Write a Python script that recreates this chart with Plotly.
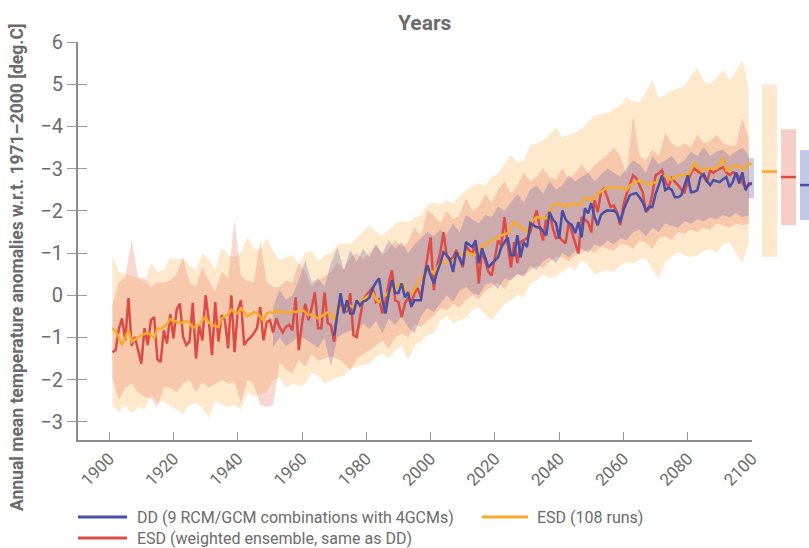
import plotly.graph_objects as go

# ---------------- DATA ----------------
years = list(range(1901, 2101))          # annual series (ESD lines)
dd_years = list(range(1970, 2101))       # annual series (DD line)
band_years = list(range(1901, 2100, 2))  # ESD envelopes
dd_band_years = list(range(1951, 2100, 2))

esd_weighted = [
    -1.35, -1.3, -0.8, -0.55, -1.07, -0.07, -1.2, -0.99, -1.3, -1.62,
    -0.78, -1.18, -0.59, -0.52, -1.52, -1.58, -0.83, -1.14, -0.45, -1.02,
    -0.34, -0.2, -0.99, -1.18, -1.1, -0.18, -1.5, -0.71, -1.07, 0.0,
    -0.6, -1.42, -0.16, -1.1, -0.47, -0.59, -1.26, 0.0, -1.35, -0.36,
    -0.12, -1.18, -1.07, -1.0, -0.9, -0.78, -0.28, -1.07, -0.64, -0.59,
    -0.88, -0.55, -0.75, -0.88, -0.75, -0.7, -0.83, -0.05, -1.3, -0.66,
    -0.2, -0.59, -0.3, 0.07, -0.78, -0.78, 0.07, -0.66, -0.71, -1.1,
    -0.36, -0.2, -0.24, -0.4, 0.05, -0.95, -0.99, -0.5, -0.12, 0.0,
    0.1, 0.19, -0.16, -0.1, -0.43, -0.12, 0.3, 0.59, -0.12, -0.16,
    -0.52, -0.2, -0.05, -0.2, 0.05, 0.17, -0.05, 0.4, 0.83, 1.37,
    0.12, 0.71, 1.0, 1.49, 0.95, 0.83, 0.9, 1.07, 0.9, 0.66,
    1.18, 1.05, 0.99, 1.23, 0.28, 1.07, 0.8, 0.55, 0.47, 0.9,
    1.3, 1.18, 1.85, 1.2, 0.66, 1.26, 0.76, 1.26, 1.3, 1.35,
    1.5, 1.73, 2.01, 1.6, 1.3, 1.85, 1.97, 1.6, 1.35, 1.37,
    1.3, 1.23, 1.73, 1.47, 1.2, 0.99, 1.85, 1.8, 1.73, 1.49,
    2.25, 1.97, 2.44, 2.54, 2.3, 2.09, 2.13, 1.97, 1.66, 2.13,
    2.4, 2.61, 2.84, 2.77, 2.6, 2.44, 1.97, 2.06, 2.4, 2.84,
    2.89, 2.96, 2.7, 2.56, 2.77, 2.7, 2.61, 2.5, 2.44, 2.7,
    2.89, 3.0, 2.95, 2.89, 2.8, 2.68, 2.96, 2.9, 2.96, 3.0,
    3.03, 2.91, 2.85, 2.91, 2.89, 2.8, 2.68, 2.54, 2.6, 2.65,
]

esd_108 = [
    -0.78, -0.85, -1.0, -1.18, -1.0, -0.83, -1.1, -1.05, -0.99, -0.95,
    -0.92, -0.88, -0.95, -1.02, -0.78, -0.8, -0.75, -0.68, -0.57, -0.6,
    -0.63, -0.66, -0.64, -0.61, -0.65, -0.78, -0.72, -0.71, -0.6, -0.52,
    -0.65, -0.71, -0.73, -0.75, -0.55, -0.5, -0.45, -0.34, -0.4, -0.43,
    -0.31, -0.4, -0.5, -0.45, -0.4, -0.42, -0.5, -0.6, -0.43, -0.4,
    -0.42, -0.36, -0.42, -0.38, -0.43, -0.4, -0.38, -0.4, -0.36, -0.34,
    -0.4, -0.47, -0.45, -0.5, -0.55, -0.5, -0.45, -0.4, -0.5, -0.59,
    -0.28, -0.3, -0.36, -0.3, -0.25, -0.28, -0.2, -0.15, -0.1, -0.05,
    0.0, 0.05, -0.1, -0.16, -0.05, 0.0, 0.08, 0.12, 0.2, 0.25,
    0.28, 0.15, 0.05, 0.0, 0.15, 0.3, 0.4, 0.5, 0.59, 0.59,
    0.52, 0.65, 0.76, 0.78, 0.8, 0.78, 0.82, 0.9, 0.95, 0.98,
    1.02, 1.0, 0.97, 0.95, 1.05, 1.18, 1.2, 1.25, 1.3, 1.35,
    1.38, 1.42, 1.45, 1.47, 1.6, 1.73, 1.68, 1.61, 1.55, 1.5,
    1.71, 1.78, 1.85, 1.84, 1.83, 1.82, 1.95, 2.13, 2.15, 2.18,
    2.12, 2.09, 2.15, 2.18, 2.15, 2.13, 2.2, 2.32, 2.28, 2.25,
    2.32, 2.42, 2.45, 2.5, 2.56, 2.55, 2.56, 2.56, 2.56, 2.52,
    2.49, 2.6, 2.65, 2.7, 2.7, 2.7, 2.65, 2.61, 2.65, 2.68,
    2.75, 2.8, 2.84, 2.78, 2.73, 2.8, 2.84, 2.84, 2.84, 2.84,
    2.95, 3.13, 3.05, 2.96, 2.98, 3.0, 3.0, 3.0, 3.0, 3.1,
    3.27, 2.96, 3.0, 3.05, 3.08, 3.05, 3.0, 3.0, 3.12, 3.1,
]

dd_mean = [
    -0.95, -0.43, 0.05, -0.43, -0.12, -0.43, -0.43, -0.12, -0.24, -0.15,
    -0.12, -0.05, 0.17, 0.3, 0.4, -0.12, -0.43, 0.05, 0.36, 0.05,
    0.05, 0.28, -0.05, 0.07, -0.28, -0.12, -0.12, -0.12, 0.43, 0.71,
    0.47, 0.28, 0.55, 0.75, 1.02, 0.95, 0.85, 0.55, 1.02, 0.85,
    0.71, 1.26, 1.2, 1.14, 1.3, 0.76, 1.11, 0.9, 0.66, 0.75,
    0.83, 0.9, 1.14, 1.25, 1.37, 0.95, 0.95, 1.42, 0.9, 1.26,
    1.14, 1.71, 1.65, 1.61, 1.61, 1.5, 1.42, 1.97, 1.8, 1.71,
    1.35, 2.01, 1.8, 1.71, 1.66, 1.47, 1.73, 1.37, 2.06, 1.94,
    2.18, 1.85, 1.66, 1.9, 1.97, 2.01, 2.0, 2.01, 1.94, 1.73,
    2.01, 2.2, 2.37, 2.4, 2.42, 2.32, 2.2, 2.01, 2.09, 2.09,
    2.4, 2.61, 2.84, 2.49, 2.54, 2.5, 2.32, 2.32, 2.37, 2.6,
    2.84, 2.44, 2.45, 2.49, 2.8, 2.87, 2.7, 2.61, 2.73, 2.7,
    2.68, 2.75, 2.8, 2.56, 2.68, 2.91, 2.65, 2.91, 2.49, 2.65, 2.65,
]

esd108_upper = [
    0.95, 0.55, 0.5, 0.45, 0.4, 0.3, 0.76, 0.55, 0.6, 0.88,
    0.85, 0.88, 0.7, 0.6, 0.99, 0.85, 0.6, 1.14, 0.95, 0.9,
    1.0, 1.38, 1.1, 1.07, 1.35, 1.05, 0.83, 0.9, 0.95, 0.76,
    1.0, 1.05, 0.8, 0.95, 1.0, 1.19, 1.23, 1.2, 1.35, 1.5,
    1.66, 1.5, 1.42, 1.54, 1.7, 1.75, 1.73, 1.85, 1.9, 2.13,
    2.2, 2.15, 2.25, 2.18, 2.35, 2.49, 2.6, 2.65, 2.6, 2.8,
    2.89, 3.1, 3.32, 3.15, 3.2, 3.55, 3.6, 3.67, 3.8, 3.96,
    3.74, 3.8, 3.86, 3.95, 4.1, 4.25, 4.3, 4.31, 4.4, 4.5,
    4.69, 4.6, 4.57, 4.8, 5.1, 4.67, 4.75, 4.85, 4.9, 4.95,
    5.2, 5.38, 5.05, 5.0, 5.15, 5.33, 5.1, 5.3, 5.57, 4.9,
]
esd108_lower = [
    -2.6, -2.77, -2.6, -2.8, -2.65, -2.7, -2.33, -2.55, -2.5, -2.65,
    -2.7, -2.8, -2.6, -2.55, -2.7, -2.89, -2.5, -2.6, -2.65, -2.6,
    -2.7, -2.3, -2.4, -2.35, -2.3, -2.0, -1.95, -2.2, -2.1, -2.15,
    -2.1, -1.85, -1.9, -2.1, -2.0, -1.95, -1.9, -1.75, -1.7, -1.65,
    -1.62, -1.45, -1.38, -1.5, -1.3, -1.2, -1.54, -1.2, -1.1, -0.95,
    -0.9, -0.6, -0.5, -0.66, -0.6, -0.55, -0.35, -0.28, -0.45, -0.59,
    -0.4, -0.2, -0.12, 0.0, -0.05, 0.28, 0.35, 0.5, 0.4, 0.45,
    0.55, 0.67, 0.6, 0.83, 0.7, 0.5, 0.55, 0.6, 0.55, 0.7,
    0.78, 0.75, 0.85, 0.88, 0.6, 0.4, 0.8, 0.9, 1.02, 0.95,
    0.9, 0.95, 1.05, 1.11, 1.0, 1.2, 1.26, 1.0, 0.78, 1.26,
]

esdw_upper = [
    -0.24, 0.3, 0.43, 1.3, 0.43, 0.4, 0.19, 0.3, 0.3, 0.35,
    0.5, 0.9, 0.3, 0.2, 0.67, 0.35, 0.1, 0.55, 0.4, 1.78,
    0.45, 0.35, 0.3, 1.3, 0.3, 0.2, 0.19, 0.35, 0.3, 0.76,
    0.55, 0.2, 0.35, 0.45, 0.55, 0.78, 0.6, 0.9, 1.0, 0.85,
    1.0, 1.2, 0.95, 1.1, 1.3, 1.15, 1.25, 1.6, 1.4, 2.0,
    1.9, 1.7, 2.0, 1.8, 1.9, 2.3, 2.0, 2.1, 2.4, 2.2,
    2.5, 2.7, 2.4, 2.6, 2.9, 2.7, 2.8, 3.0, 2.8, 2.75,
    3.0, 2.75, 2.9, 3.1, 2.9, 3.08, 3.2, 3.32, 3.5, 3.3,
    2.84, 4.26, 3.3, 3.2, 3.45, 3.3, 3.84, 3.6, 3.5, 3.6,
    3.5, 3.8, 3.6, 3.65, 3.8, 3.6, 3.55, 3.55, 4.2, 3.7,
]
esdw_lower = [
    -1.95, -2.49, -2.2, -2.1, -2.3, -2.4, -2.45, -2.65, -2.17, -2.2,
    -2.3, -2.1, -2.0, -2.3, -2.05, -2.2, -2.1, -2.0, -2.1, -2.05,
    -2.55, -2.0, -2.1, -2.6, -2.65, -2.6, -1.6, -1.75, -1.85, -1.53,
    -1.7, -1.4, -1.55, -1.5, -1.45, -1.5, -1.6, -1.78, -1.5, -1.38,
    -1.3, -1.2, -1.07, -1.25, -1.0, -0.9, -1.0, -0.7, -0.75, -0.6,
    -0.5, -0.3, -0.35, -0.2, -0.3, -0.1, 0.0, -0.1, 0.1, 0.2,
    0.3, 0.15, 0.4, 0.5, 0.45, 0.6, 0.7, 0.65, 0.8, 0.9,
    0.9, 0.8, 0.95, 1.0, 1.1, 1.0, 1.15, 1.1, 1.05, 1.2,
    1.2, 1.1, 1.3, 1.25, 1.1, 1.35, 1.4, 1.3, 1.5, 1.45,
    1.55, 1.5, 1.6, 1.55, 1.7, 1.65, 1.6, 1.7, 1.65, 1.7,
]

dd_upper = [
    -0.28, 0.12, -0.1, 0.0, 0.36, 0.83, 0.3, 0.4, 0.2, 0.76,
    1.14, 0.6, 1.07, 0.8, 1.1, 0.9, 1.2, 1.0, 1.3, 1.1,
    1.25, 1.0, 1.2, 1.35, 1.5, 1.4, 1.55, 1.45, 1.7, 1.5,
    1.9, 1.8, 1.7, 1.9, 1.85, 2.1, 2.0, 2.2, 2.4, 2.2,
    2.5, 2.6, 2.4, 2.7, 2.5, 2.6, 2.85, 2.7, 2.8, 2.9,
    2.7, 2.85, 3.0, 2.9, 2.8, 3.0, 3.2, 3.1, 2.9, 3.3,
    3.1, 3.2, 3.3, 3.1, 3.2, 3.4, 3.3, 3.5, 3.3, 3.4,
    3.45, 3.3, 3.4, 3.5, 3.3,
]
dd_lower = [
    -1.23, -1.0, -1.2, -1.1, -0.95, -1.05, -1.14, -1.25, -1.0, -1.7,
    -1.0, -0.9, -0.83, -0.9, -0.67, -0.8, -0.6, -0.9, -0.55, -0.7,
    -0.5, -0.75, -0.9, -0.5, -0.3, -0.4, -0.2, 0.0, -0.15, 0.1,
    0.2, 0.05, 0.0, 0.25, 0.3, 0.15, 0.4, 0.35, 0.5, 0.45,
    0.7, 0.6, 0.8, 0.9, 0.75, 1.0, 0.9, 1.05, 1.1, 1.0,
    1.2, 1.15, 1.3, 1.2, 1.35, 1.3, 1.5, 1.55, 1.4, 1.6,
    1.5, 1.7, 1.65, 1.6, 1.75, 1.7, 1.8, 1.75, 1.85, 1.8,
    1.9, 1.85, 1.95, 1.85, 1.9,
]

# end-of-century summaries (ESD 108, ESD weighted, DD)
summary_low = [0.91, 1.66, 1.78]
summary_high = [5.0, 3.93, 3.44]
summary_mid = [2.93, 2.8, 2.61]
dd_end_box = [2.3, 3.25]

y_tickvals = [6, 5, 4, 3, 2, 1, 0, -1, -2, -3]
y_ticktext = ["6", "5", "\u22124", "\u22123", "\u22122", "\u22121", "0", "\u22121", "\u22122", "\u22123"]
x_tickvals = list(range(1900, 2101, 20))

# ---------------- STYLE ----------------
C_BLUE = "#4a4ea6"
C_RED = "#dc4b46"
C_ORANGE = "#f8aa2a"
GRAY = "#6b6b6b"
AX = "#8c8c8c"
FONT = "Roboto, sans-serif"

fig = go.Figure()


def band(x, up, lo, color):
    return go.Scatter(x=x + x[::-1], y=up + lo[::-1], fill="toself", fillcolor=color,
                      line=dict(width=0), mode="lines", hoverinfo="skip", showlegend=False)


fig.add_trace(band(band_years, esd108_upper, esd108_lower, "rgba(253,200,130,0.40)"))
fig.add_trace(band(band_years, esdw_upper, esdw_lower, "rgba(228,110,80,0.27)"))
fig.add_trace(band(dd_band_years, dd_upper, dd_lower, "rgba(80,80,170,0.25)"))

fig.add_trace(go.Scatter(x=years, y=esd_weighted, mode="lines", line=dict(color=C_RED, width=2.5),
                         showlegend=False))
fig.add_trace(go.Scatter(x=years, y=esd_108, mode="lines", line=dict(color=C_ORANGE, width=2.5),
                         showlegend=False))
fig.add_trace(go.Scatter(x=dd_years, y=dd_mean, mode="lines", line=dict(color=C_BLUE, width=2.5),
                         showlegend=False))
# invisible trace to activate the overlay axis (inner half of the crossing y ticks)
fig.add_trace(go.Scatter(x=years[:1], y=esd_108[:1], yaxis="y2", mode="markers",
                         marker=dict(opacity=0), hoverinfo="skip", showlegend=False))

W, H = 809, 548
L, T = 78, 42
R = W - 752
B = H - 440
PW = W - L - R
PH = H - T - B


def px_x(p):  # page pixel -> paper x
    return (p - L) / PW


def px_y(p):  # page pixel -> paper y
    return (H - B - p) / PH


yr = [-3.43, 6]
fig.update_layout(
    width=W, height=H,
    margin=dict(l=L, r=R, t=T, b=B, autoexpand=False),
    paper_bgcolor="white", plot_bgcolor="white",
    font=dict(family=FONT, color=GRAY),
    showlegend=False,
    xaxis=dict(range=[1890.3, 2100], tickvals=x_tickvals, tickangle=-45,
               ticks="inside", ticklen=8, tickwidth=1, tickcolor="#9a9a9a",
               showline=True, linecolor=AX, linewidth=2, automargin=False,
               tickfont=dict(size=17, color=GRAY, family=FONT),
               showgrid=False, zeroline=False),
    yaxis=dict(range=yr, tickvals=y_tickvals, ticktext=y_ticktext,
               ticks="outside", ticklen=9, tickwidth=1, tickcolor="#9a9a9a",
               showline=True, linecolor=AX, linewidth=2, automargin=False,
               tickfont=dict(size=20, color=GRAY, family=FONT),
               showgrid=False, zeroline=False),
    yaxis2=dict(range=yr, tickvals=y_tickvals, overlaying="y", side="left",
                ticks="inside", ticklen=9, tickwidth=1, tickcolor="#9a9a9a", automargin=False,
                showticklabels=False, showline=False, showgrid=False, zeroline=False),
)

shapes = []
# end-of-century summary bars
bar_px = [(762, 777), (781, 796), (800, 815)]
bar_fill = ["#fee9cf", "#f5cec6", "#c6c6e6"]
bar_line = [C_ORANGE, C_RED, C_BLUE]
for i in range(3):
    x0, x1 = px_x(bar_px[i][0]), px_x(bar_px[i][1])
    shapes.append(dict(type="rect", xref="paper", yref="y", x0=x0, x1=x1,
                       y0=summary_low[i], y1=summary_high[i], fillcolor=bar_fill[i],
                       line=dict(width=0), layer="below"))
    shapes.append(dict(type="line", xref="paper", yref="y", x0=x0, x1=x1,
                       y0=summary_mid[i], y1=summary_mid[i], line=dict(color=bar_line[i], width=2.5)))
shapes.append(dict(type="rect", xref="paper", yref="y", x0=px_x(748), x1=px_x(754),
                   y0=dd_end_box[0], y1=dd_end_box[1], fillcolor="rgba(80,80,170,0.28)",
                   line=dict(width=0), layer="below"))

# legend (manual)
leg = [
    (78, 127, 517, C_BLUE, 135, "DD (9 RCM/GCM combinations with 4GCMs)"),
    (482, 528, 517, C_ORANGE, 535, "ESD (108 runs)"),
    (78, 127, 538, C_RED, 135, "ESD (weighted ensemble, same as DD)"),
]
annotations = []
for x0, x1, yy, col, tx, txt in leg:
    shapes.append(dict(type="line", xref="paper", yref="paper", x0=px_x(x0), x1=px_x(x1),
                       y0=px_y(yy), y1=px_y(yy), line=dict(color=col, width=3)))
    annotations.append(dict(text=txt, xref="paper", yref="paper", x=px_x(tx), y=px_y(yy),
                            xanchor="left", yanchor="middle", showarrow=False,
                            font=dict(size=16, color=GRAY, family=FONT)))

annotations.append(dict(text="<b>Years</b>", xref="paper", yref="paper", x=px_x(425), y=px_y(23),
                        xanchor="center", yanchor="middle", showarrow=False,
                        font=dict(size=21, color=GRAY, family=FONT)))
annotations.append(dict(text="<b>Annual mean temperature anomalies w.r.t. 1971\u20132000 [deg.C]</b>",
                        xref="paper", yref="paper", x=px_x(17), y=px_y(267), textangle=-90,
                        xanchor="center", yanchor="middle", showarrow=False,
                        font=dict(size=17.5, color=GRAY, family=FONT)))

fig.update_layout(shapes=shapes, annotations=annotations)
fig.write_html("out.html",
               config={"displayModeBar": False},
               post_script="document.body.style.margin='0';document.body.style.overflow='hidden';")
